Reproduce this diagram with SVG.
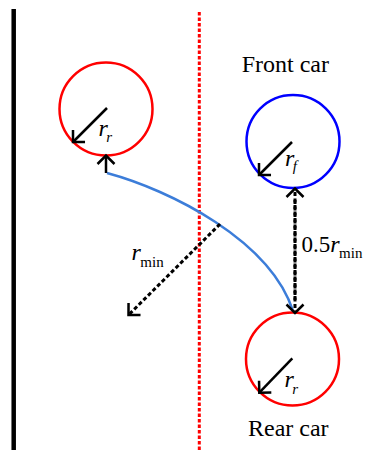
<svg xmlns="http://www.w3.org/2000/svg" width="377" height="450" viewBox="0 0 377 450">
<style>
.car-r{fill:none;stroke:#ff0000;stroke-width:2.5}
.car-b{fill:none;stroke:#0000ff;stroke-width:2.5}
.solid{fill:none;stroke:#000;stroke-width:2.5}
.dash{fill:none;stroke:#000;stroke-width:3;stroke-dasharray:4 2.5}
.lbl{font-family:"Liberation Serif","Times New Roman",serif;fill:#000}
.it{font-style:italic}
</style>
<defs>
<marker id="ah" markerUnits="userSpaceOnUse" viewBox="-12 -12 14 24" refX="0" refY="0" markerWidth="14" markerHeight="24" orient="auto" overflow="visible">
<path d="M-8.5,-8.5 L0,0 L-8.5,8.5" fill="none" stroke="#000" stroke-width="2.5"/>
</marker>
</defs>
<g id="wall"><line x1="13.7" y1="9" x2="13.7" y2="450" stroke="#000" stroke-width="4.5"/></g>
<g id="centerline"><line x1="199.3" y1="12" x2="199.3" y2="450" stroke="#ff0000" stroke-width="3" stroke-dasharray="3.5 2"/></g>
<g id="car-start">
<circle class="car-r" cx="106" cy="109" r="46.5"/>
<line class="solid" x1="107" y1="108" x2="73" y2="142" marker-end="url(#ah)"/>
<text class="lbl" x="98.5" y="135.5"><tspan class="it" font-size="24">r</tspan><tspan class="it" font-size="15" dx="-1.5" dy="6.5">r</tspan></text>
</g>
<g id="front-car">
<circle class="car-b" cx="293" cy="141.5" r="46.5"/>
<line class="solid" x1="292" y1="142" x2="259" y2="175" marker-end="url(#ah)"/>
<text class="lbl" x="285" y="166"><tspan class="it" font-size="24">r</tspan><tspan class="it" font-size="15" dx="-1.5" dy="5">f</tspan></text>
<text class="lbl" x="241.7" y="72" font-size="24">Front car</text>
</g>
<g id="rear-car">
<circle class="car-r" cx="292.5" cy="359" r="46.5"/>
<line class="solid" x1="292.3" y1="358.3" x2="259.3" y2="392.7" marker-end="url(#ah)"/>
<text class="lbl" x="284.5" y="387"><tspan class="it" font-size="24">r</tspan><tspan class="it" font-size="15" dx="-1.5" dy="7">r</tspan></text>
<text class="lbl" x="248" y="436" font-size="24">Rear car</text>
</g>
<g id="connectors">
<path d="M107,173 C170,190 270,240 293,311" fill="none" stroke="#3c7dd9" stroke-width="2.5"/>
<line class="solid" x1="106" y1="173" x2="106" y2="155.5" marker-end="url(#ah)"/>
<line class="dash" x1="295" y1="300" x2="295" y2="188.5" marker-end="url(#ah)"/>
<line class="dash" x1="295" y1="200" x2="295" y2="313" marker-end="url(#ah)"/>
<line class="dash" x1="220" y1="224" x2="128.5" y2="315" marker-end="url(#ah)"/>
<text class="lbl" x="131.5" y="260"><tspan class="it" font-size="24">r</tspan><tspan font-size="15" dx="-0.5" dy="7">min</tspan></text>
<text class="lbl" x="301.5" y="252" font-size="23">0.5<tspan class="it" font-size="24">r</tspan><tspan font-size="15" dx="-0.5" dy="6">min</tspan></text>
</g>
</svg>
